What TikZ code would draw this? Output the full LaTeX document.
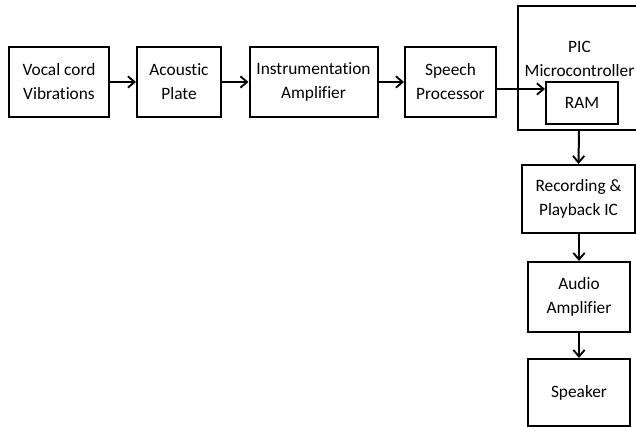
\documentclass[tikz,border=0pt]{standalone}
\usepackage{fontspec}
\setmainfont[Ligatures={NoCommon}]{Carlito}
\usetikzlibrary{arrows.meta}
\begin{document}
\begin{tikzpicture}[x=0.75pt,y=-0.75pt,
  blk/.style={draw=black,line width=1.5pt,inner sep=0pt,align=center,font=\fontsize{13}{18}\selectfont},
  lbl/.style={inner sep=0pt,align=center,font=\fontsize{13}{18.5}\selectfont},
  arr/.style={line width=1.5pt,-{Straight Barb[length=5pt,width=8.5pt,line width=1.4pt]}}]
\useasboundingbox (0,0) rectangle (636,427);
\node[blk,minimum width=100*0.75pt,minimum height=70*0.75pt] (vocal) at (59,82) {Vocal cord\\Vibrations};
\node[blk,minimum width=84*0.75pt,minimum height=70*0.75pt] (acou) at (179,82) {Acoustic\\Plate};
\node[blk,minimum width=128*0.75pt,minimum height=70*0.75pt] (instr) at (313.5,82) {Instrumentation\\Amplifier};
\node[blk,minimum width=91*0.75pt,minimum height=70*0.75pt] (speech) at (450.5,82) {Speech\\Processor};
\node[blk,minimum width=122*0.75pt,minimum height=124*0.75pt] (pic) at (579,68) {};
\node[lbl] (pictext) at (579.5,59) {PIC\\Microcontroller};
\node[blk,minimum width=72*0.75pt,minimum height=42*0.75pt] (ram) at (582,103) {RAM};
\node[blk,minimum width=113*0.75pt,minimum height=68*0.75pt] (rec) at (578.5,199) {Recording \&\\Playback IC};
\node[blk,minimum width=102*0.75pt,minimum height=70*0.75pt] (audio) at (579,297) {Audio\\Amplifier};
\node[blk,minimum width=102*0.75pt,minimum height=67*0.75pt] (spk) at (579,392.5) {Speaker};
\draw[arr] (vocal) -- (acou);
\draw[arr] (acou) -- (instr);
\draw[arr] (instr) -- (speech);
\coordinate (sp) at (0,89);
\draw[arr] (speech.east |- sp) -- (ram.west |- sp);
\draw[arr] (pic.south) -- (rec.north);
\draw[arr] (rec.south -| audio.north) -- (audio.north);
\draw[arr] (audio) -- (spk);
\end{tikzpicture}
\end{document}
